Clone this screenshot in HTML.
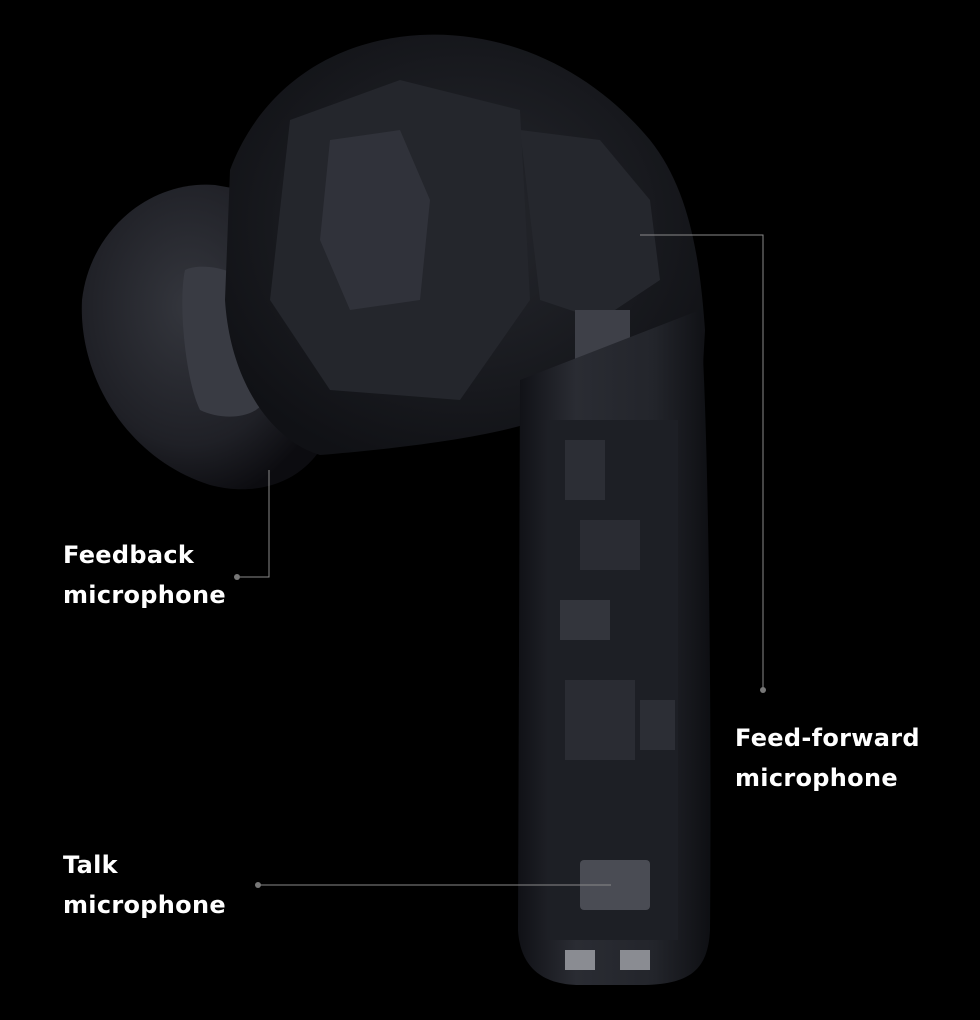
<!DOCTYPE html>
<html><head><meta charset="utf-8"><style>
html,body{margin:0;padding:0;background:#000;}
.w{position:relative;width:980px;height:1020px;background:#000;overflow:hidden;font-family:"DejaVu Sans","Liberation Sans",sans-serif;}
.t{position:absolute;color:#fff;font-weight:bold;font-size:24px;line-height:40px;letter-spacing:0.3px;}
svg{position:absolute;left:0;top:0;}
</style></head><body><div class="w">
<svg width="980" height="1020" viewBox="0 0 980 1020">
<defs>
<radialGradient id="tip" cx="0.45" cy="0.4" r="0.65"><stop offset="0" stop-color="#34363d"/><stop offset="0.7" stop-color="#1f2026"/><stop offset="1" stop-color="#0c0c10"/></radialGradient>
<linearGradient id="stem" x1="0" x2="1"><stop offset="0" stop-color="#101116"/><stop offset="0.3" stop-color="#2a2c33"/><stop offset="0.7" stop-color="#23252b"/><stop offset="1" stop-color="#0e0f13"/></linearGradient>
<radialGradient id="head" cx="0.5" cy="0.45" r="0.6"><stop offset="0" stop-color="#26282e"/><stop offset="1" stop-color="#101115"/></radialGradient>
</defs>
<path d="M215 185 C150 180 90 230 82 300 C78 380 130 460 210 485 C260 498 300 480 320 450 L300 200 Z" fill="url(#tip)"/>
<path d="M185 270 C200 262 240 268 255 290 L265 400 C255 420 220 420 200 410 C185 380 178 300 185 270Z" fill="#393b43"/>
<path d="M230 170 C260 90 330 40 420 35 C520 30 600 80 650 140 C690 190 700 260 705 330 L700 420 L540 420 C480 440 380 450 320 455 C270 440 230 380 225 300 Z" fill="url(#head)"/>
<path d="M290 120 L400 80 L520 110 L530 300 L460 400 L330 390 L270 300 Z" fill="#24262c"/>
<path d="M330 140 L400 130 L430 200 L420 300 L350 310 L320 240Z" fill="#30323a"/>
<path d="M520 130 L600 140 L650 200 L660 280 L600 320 L540 300Z" fill="#25272d"/>
<rect x="575" y="310" width="55" height="110" fill="#3e4048"/>
<path d="M520 380 L700 310 C708 400 712 700 710 930 C708 970 690 985 640 985 L580 985 C540 985 520 965 518 930 Z" fill="url(#stem)"/>
<rect x="548" y="420" width="130" height="520" fill="#1d1f25"/>
<rect x="565" y="440" width="40" height="60" fill="#2c2e35"/>
<rect x="580" y="520" width="60" height="50" fill="#2a2c33"/>
<rect x="560" y="600" width="50" height="40" fill="#33353c"/>
<rect x="565" y="680" width="70" height="80" fill="#2a2c33"/>
<rect x="640" y="700" width="35" height="50" fill="#2c2e35"/>
<rect x="580" y="860" width="70" height="50" rx="4" fill="#4a4c54"/>
<rect x="565" y="950" width="30" height="20" fill="#8a8c92"/>
<rect x="620" y="950" width="30" height="20" fill="#8a8c92"/>
<g stroke="#8a8a8a" stroke-width="1" fill="none">
<polyline points="240,577 269,577 269,470"/>
<polyline points="763,688 763,235 640,235"/>
<polyline points="260,885 611,885"/>
</g>
<g fill="#777"><circle cx="237" cy="577" r="3"/><circle cx="763" cy="690" r="3"/><circle cx="258" cy="885" r="3"/></g>
</svg>
<div class="t" style="left:63px;top:535px">Feedback<br>microphone</div>
<div class="t" style="left:735px;top:718px">Feed-forward<br>microphone</div>
<div class="t" style="left:63px;top:845px">Talk<br>microphone</div>
</div></body></html>
